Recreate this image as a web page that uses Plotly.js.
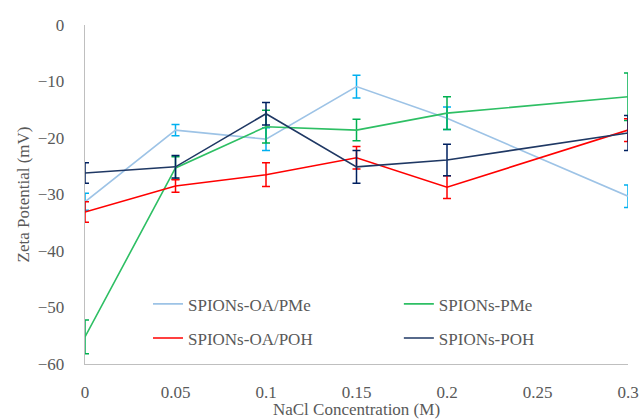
<!DOCTYPE html>
<html>
<head>
<meta charset="utf-8">
<script src="https://cdn.plot.ly/plotly-3.0.1.min.js"></script>
<style>html,body{margin:0;padding:0;background:#fff;}#chart{width:641px;height:419px;}</style>
</head>
<body>
<div id="chart"></div>
<script>
const nacl = [0, 0.05, 0.1, 0.15, 0.2, 0.3];

const oaPMe = [-31.3, -18.6, -20.2, -10.9, -16.5, -30.3];
const oaPMeErr = [1.5, 1.0, 2.0, 2.0, 2.0, 2.0];

const pMe = [-55.2, -25.3, -18.0, -18.6, -15.6, -12.7];
const pMeErr = [3.0, 2.0, 2.9, 1.9, 2.9, 4.2];

const oaPOH = [-33.1, -28.5, -26.5, -23.5, -28.7, -18.6];
const oaPOHErr = [1.8, 1.1, 2.1, 2.0, 2.0, 2.0];

const pOH = [-26.2, -25.1, -15.7, -25.1, -23.9, -19.1];
const pOHErr = [1.8, 2.0, 2.0, 2.9, 2.8, 3.1];

const names = ['SPIONs-OA/PMe', 'SPIONs-PMe', 'SPIONs-OA/POH', 'SPIONs-POH'];

function tr(name, y, err, lineColor, errColor, leg, grp) {
  return {
    x: nacl, y: y, name: name, type: 'scatter', mode: 'lines',
    legend: leg, legendgroup: grp,
    line: {color: lineColor, width: 1.6},
    error_y: {type: 'data', array: err, visible: true, color: errColor, thickness: 1.5, width: 4}
  };
}

const data = [
  tr(names[0], oaPMe, oaPMeErr, '#9DC3E6', '#00B0F0', 'legend', 'a'),
  tr(names[1], pMe, pMeErr, '#2EBF64', '#00B050', 'legend2', 'b'),
  tr(names[2], oaPOH, oaPOHErr, '#FF0000', '#FF0000', 'legend', 'c'),
  tr(names[3], pOH, pOHErr, '#1F3864', '#002060', 'legend2', 'd')
];

function mkFont(size) {
  return {family: 'Liberation Serif', size: size, color: '#595959'};
}

function leg(x) {
  return {
    orientation: 'v', x: x, y: 0.229, xanchor: 'left', yanchor: 'top',
    traceorder: 'grouped', tracegroupgap: 9,
    font: mkFont(17), bgcolor: 'rgba(0,0,0,0)'
  };
}

const layout = {
  width: 641, height: 419,
  margin: {l: 85, r: 13, t: 25, b: 55},
  paper_bgcolor: '#fff', plot_bgcolor: '#fff',
  font: mkFont(17),
  showlegend: true,
  legend: leg(0.116),
  legend2: leg(0.578),
  xaxis: {
    range: [0, 0.3], dtick: 0.05, tick0: 0, showgrid: false, zeroline: false,
    showline: true, linecolor: '#BFBFBF', linewidth: 1.3, ticks: '',
    ticklabelstandoff: 12, tickfont: mkFont(17),
    title: {text: 'NaCl Concentration (M)', font: mkFont(17), standoff: 4}
  },
  yaxis: {
    range: [-60, 0], dtick: 10, showgrid: false, zeroline: false,
    showline: true, linecolor: '#BFBFBF', linewidth: 1.3, ticks: '',
    ticklabelstandoff: 16, tickfont: mkFont(17),
    title: {text: 'Zeta Potential (mV)', font: mkFont(17), standoff: 3}
  }
};

Plotly.newPlot('chart', data, layout, {displayModeBar: false, staticPlot: true});
</script>
</body>
</html>
